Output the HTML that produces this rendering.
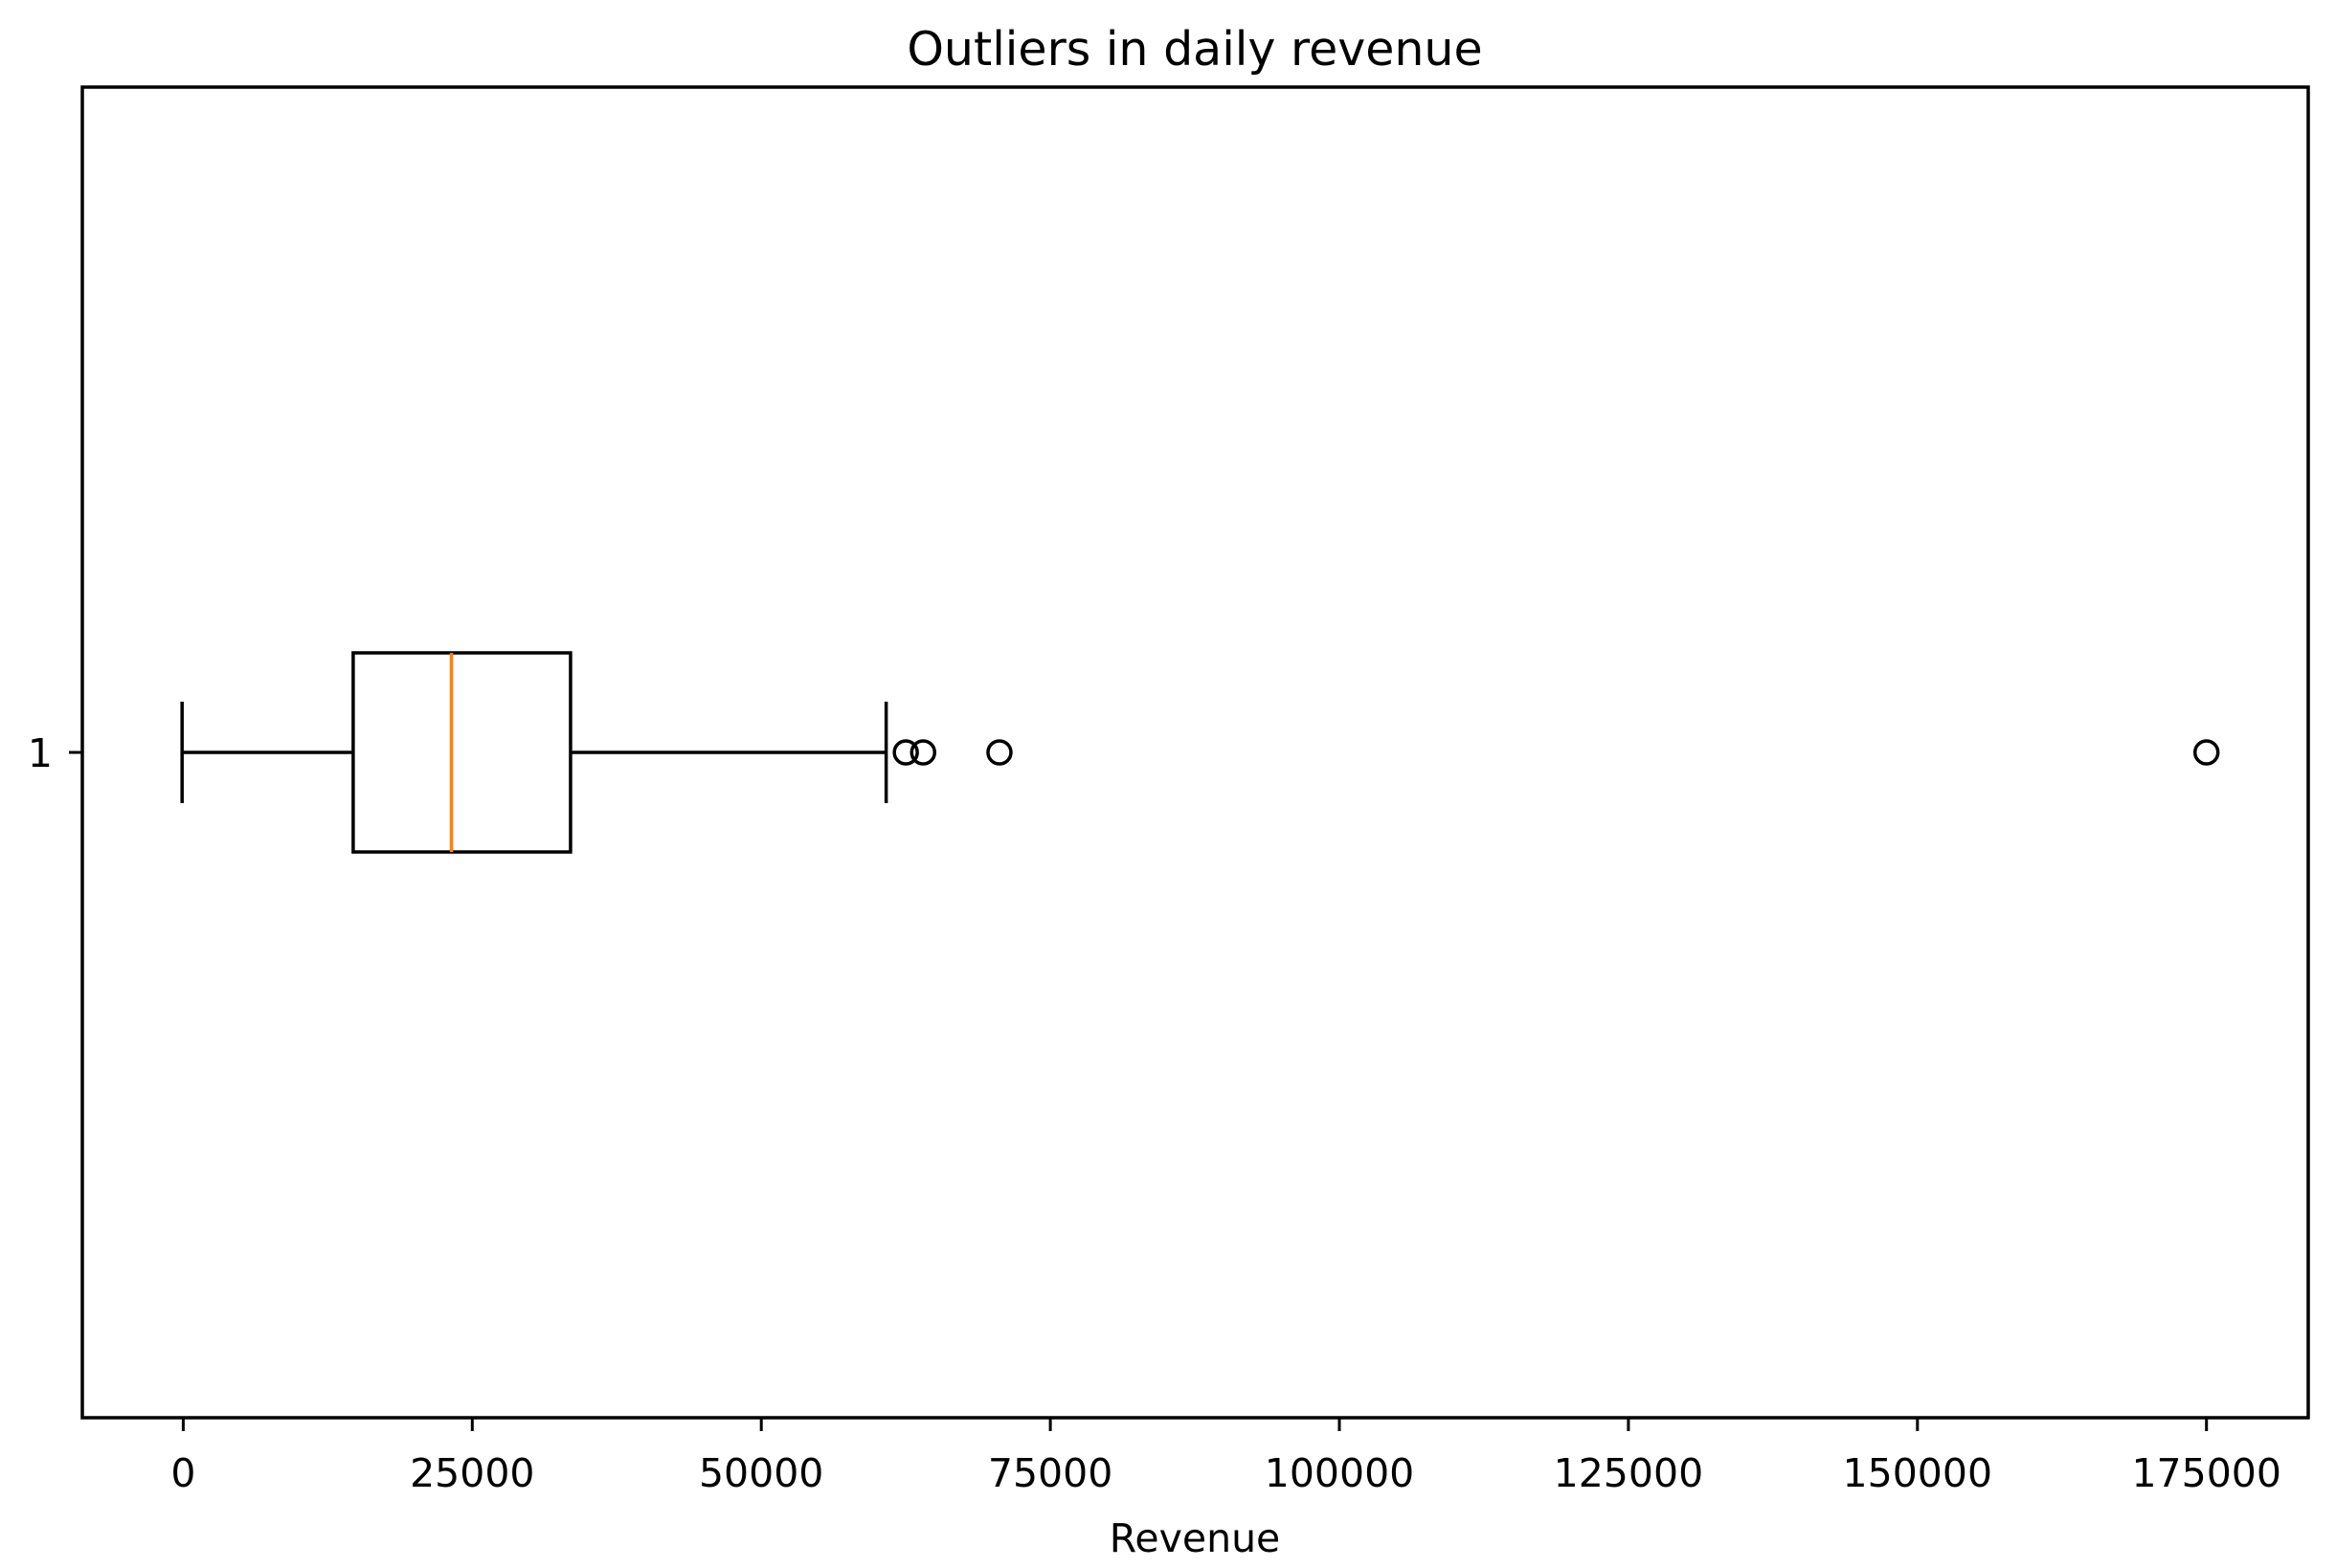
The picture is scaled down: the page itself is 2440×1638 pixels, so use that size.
<!DOCTYPE html>
<html><head><meta charset="utf-8"><style>
body{margin:0;background:#fff}
svg{display:block;font-family:"DejaVu Sans","Liberation Sans",sans-serif}
</style></head><body>
<svg id="chart" width="2440" height="1638" viewBox="0 0 2440 1638">
<rect width="2440" height="1638" fill="#fff"/>
<text x="1248" y="68" font-size="49" text-anchor="middle">Outliers in daily revenue</text>
<g id="plot"></g>
<rect x="86" y="91" width="2325" height="1390" fill="none" stroke="#000" stroke-width="3.5"/>
<text x="1248" y="1621" font-size="41" text-anchor="middle">Revenue</text>
</svg>
<script>
const xTicks = [0, 25000, 50000, 75000, 100000, 125000, 150000, 175000];
const whiskerLow = [-100];
const q1 = [14700];
const median = [23200];
const q3 = [33500];
const whiskerHigh = [60800];
const outliers = [62500, 64000, 70600, 175000];
const categories = ['1'];

const NS = 'http://www.w3.org/2000/svg';
const g = document.getElementById('plot');
const X0 = 191.4, PX = 301.9 / 25000;
function xs(v){ return X0 + v * PX; }
function ys(i){ return 786; }
function mk(tag, attrs){ const e = document.createElementNS(NS, tag); for (const k in attrs) e.setAttribute(k, attrs[k]); g.appendChild(e); return e; }

xTicks.forEach(t => {
  const l = mk('line', {x1: xs(t), x2: xs(t), y1: 1481, y2: 1495, stroke: '#000', 'stroke-width': 3});
  
  
  const tx = mk('text', {x: xs(t), y: 1553, 'font-size': 41, 'text-anchor': 'middle'});
  tx.textContent = t;
  
  
});

categories.forEach((c, i) => {
  const y = ys(i);
  const t = mk('line', {x1: 72, x2: 86, y1: y, y2: y, stroke: '#000', 'stroke-width': 3});
  
  
  const tl = mk('text', {x: 55, y: y + 15, 'font-size': 41, 'text-anchor': 'end'});
  tl.textContent = c;
  
  

  const s = {stroke: '#000', 'stroke-width': 3.5, fill: 'none'};
  const w1 = mk('line', Object.assign({x1: xs(whiskerLow[i]), x2: xs(q1[i]), y1: y, y2: y}, s));
  
  
  const w2 = mk('line', Object.assign({x1: xs(q3[i]), x2: xs(whiskerHigh[i]), y1: y, y2: y}, s));
  
  
  const c1 = mk('line', Object.assign({x1: xs(whiskerLow[i]), x2: xs(whiskerLow[i]), y1: y - 53, y2: y + 53}, s));
  
  
  const c2 = mk('line', Object.assign({x1: xs(whiskerHigh[i]), x2: xs(whiskerHigh[i]), y1: y - 53, y2: y + 53}, s));
  
  
  const b = mk('rect', Object.assign({x: xs(q1[i]), y: y - 104, width: xs(q3[i]) - xs(q1[i]), height: 208}, s));
  
  
  const m = mk('line', {x1: xs(median[i]), x2: xs(median[i]), y1: y - 104, y2: y + 104, stroke: '#ff7f0e', 'stroke-width': 3.5});
  
  
  outliers.forEach(o => {
    const p = mk('circle', {cx: xs(o), cy: y, r: 12, fill: 'none', stroke: '#000', 'stroke-width': 3.5});
    
    
  });
});
</script>
</body></html>
